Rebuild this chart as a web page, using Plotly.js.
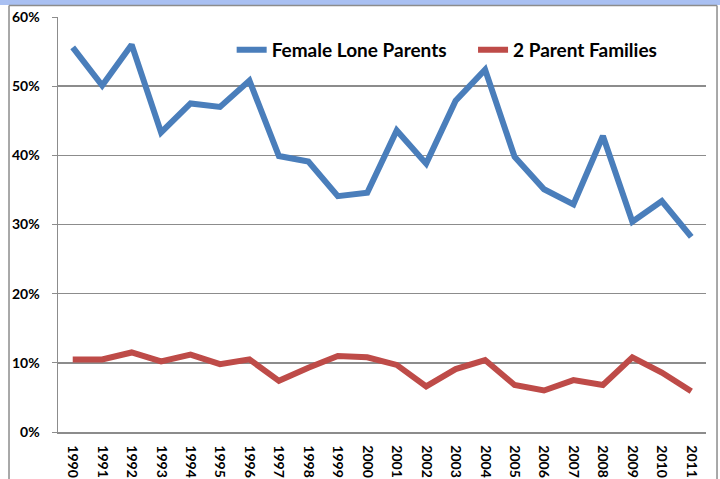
<!DOCTYPE html>
<html>
<head>
<meta charset="utf-8">
<script src="https://cdn.plot.ly/plotly-3.0.1.min.js"></script>
<style>
  html, body { margin: 0; padding: 0; background: white; }
  #chart { width: 720px; height: 479px; }
</style>
</head>
<body>
<div id="chart"></div>
<script>
// years along the bottom
var years = ['1990','1991','1992','1993','1994','1995','1996','1997','1998','1999','2000',
             '2001','2002','2003','2004','2005','2006','2007','2008','2009','2010','2011'];

// share of each family type
var femaleLoneParents = [0.556, 0.501, 0.560, 0.433, 0.475, 0.470, 0.508, 0.399, 0.391, 0.341, 0.346,
                         0.436, 0.388, 0.479, 0.524, 0.398, 0.351, 0.329, 0.428, 0.304, 0.334, 0.282];
var twoParentFamilies = [0.105, 0.105, 0.115, 0.102, 0.112, 0.098, 0.105, 0.074, 0.093, 0.110, 0.108,
                         0.097, 0.066, 0.091, 0.104, 0.068, 0.060, 0.075, 0.068, 0.108, 0.086, 0.059];

var yTicks = [0, 0.1, 0.2, 0.3, 0.4, 0.5, 0.6];
var yTickText = ['0%', '10%', '20%', '30%', '40%', '50%', '60%'];

var fontFam = 'Lato, "Open Sans", sans-serif';
var legendFont = { size: 19, family: fontFam, weight: 'bold', color: 'black' };

var data = [
    {
        x: years,
        y: femaleLoneParents,
        type: 'scatter',
        mode: 'lines',
        name: 'Female Lone Parents',
        legend: 'legend',
        line: { color: '#4a7ebb', width: 6 }
    },
    {
        x: years,
        y: twoParentFamilies,
        type: 'scatter',
        mode: 'lines',
        name: '2 Parent Families',
        legend: 'legend2',
        line: { color: '#be4b48', width: 6 }
    }
];

var layout = {
    width: 720,
    height: 479,
    margin: { l: 58, r: 14, t: 17, b: 47 },
    paper_bgcolor: 'white',
    plot_bgcolor: 'white',
    font: { family: fontFam, color: 'black' },
    showlegend: true,
    // one legend per series so each sits where Excel put it
    legend: {
        x: 0.268, xanchor: 'left',
        y: 0.921, yanchor: 'middle',
        bgcolor: 'rgba(0,0,0,0)',
        font: legendFont
    },
    legend2: {
        x: 0.6405, xanchor: 'left',
        y: 0.921, yanchor: 'middle',
        bgcolor: 'rgba(0,0,0,0)',
        font: legendFont
    },
    xaxis: {
        type: 'category',
        range: [-0.5, 21.5],
        tickangle: 90,
        tickfont: { size: 14, family: fontFam, weight: 'bold' },
        showgrid: false,
        showline: true,
        linecolor: '#8c8c8c',
        linewidth: 1.5,
        ticks: '',
        ticklabelstandoff: 9,
        fixedrange: true
    },
    yaxis: {
        range: [0, 0.6],
        tickvals: yTicks,
        ticktext: yTickText,
        tickfont: { size: 14, family: fontFam, weight: 'bold' },
        showgrid: true,
        gridcolor: '#8c8c8c',
        gridwidth: 1.5,
        showline: true,
        linecolor: '#8c8c8c',
        linewidth: 1.5,
        ticks: 'outside',
        ticklen: 5,
        tickcolor: '#8c8c8c',
        ticklabelstandoff: 9,
        zeroline: false,
        fixedrange: true
    },
    shapes: [
        // light blue strip along the top of the frame
        { type: 'rect', xref: 'paper', yref: 'paper', x0: -0.1, x1: 1.03, y0: 1.029, y1: 1.06,
          fillcolor: '#a9c0f2', line: { width: 0 }, layer: 'below' },
        // chart frame
        { type: 'line', xref: 'paper', yref: 'paper', x0: -0.0756, x1: -0.0756, y0: -0.12, y1: 1.028,
          line: { color: '#8c8c8c', width: 1.5 } },
        { type: 'line', xref: 'paper', yref: 'paper', x0: 1.017, x1: 1.017, y0: -0.12, y1: 1.028,
          line: { color: '#8c8c8c', width: 1.5 } },
        { type: 'line', xref: 'paper', yref: 'paper', x0: -0.0756, x1: 1.017, y0: 1.028, y1: 1.028,
          line: { color: '#8c8c8c', width: 1.5 } }
    ]
};

Plotly.newPlot('chart', data, layout, { displayModeBar: false, staticPlot: true });
</script>
</body>
</html>
